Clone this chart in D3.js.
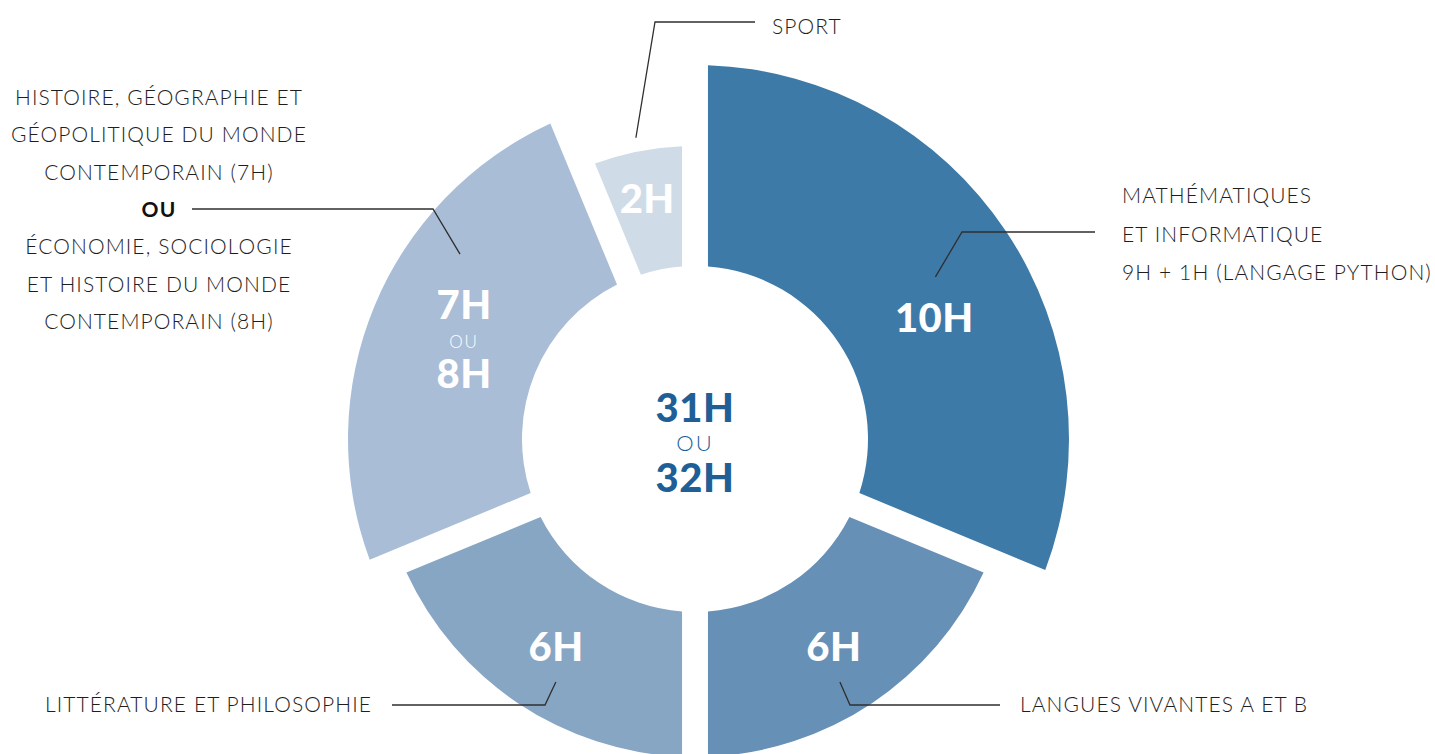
<!DOCTYPE html>
<html>
<head>
<meta charset="utf-8">
<script src="https://cdn.jsdelivr.net/npm/d3@7/dist/d3.min.js"></script>
<style>
  html, body { margin: 0; padding: 0; background: #fff; }
  svg { display: block; }
  .lbl { font-family: Lato, "Open Sans", sans-serif; font-weight: 300; font-size: 21px; fill: #1e1e1e; letter-spacing: 1.1px; }
  .big { font-family: Lato, sans-serif; font-weight: 900; font-size: 40px; letter-spacing: 0.5px; }
  .thin { font-family: Lato, sans-serif; font-weight: 300; }
</style>
</head>
<body>
<div id="chart"></div>
<script>
// données : heures hebdomadaires par matière
const subjects = ["Mathématiques", "Langues", "Littérature", "Histoire / SES", "Sport"];
const hours = [10, 6, 6, 8, 2];
const hourLabels = [["10H"], ["6H"], ["6H"], ["7H", "OU", "8H"], ["2H"]];
const colors = ["#3e7aa7", "#6690b6", "#87a6c4", "#a9bdd6", "#cfdce8"];
const outerRadii = [374, 318, 318, 347, 293];
const totalLabel = ["31H", "OU", "32H"];

const descMath = ["MATHÉMATIQUES", "ET INFORMATIQUE", "9H + 1H (LANGAGE PYTHON)"];
const descHist = ["HISTOIRE, GÉOGRAPHIE ET", "GÉOPOLITIQUE DU MONDE", "CONTEMPORAIN (7H)", "OU",
                  "ÉCONOMIE, SOCIOLOGIE", "ET HISTOIRE DU MONDE", "CONTEMPORAIN (8H)"];
const descLitt = ["LITTÉRATURE ET PHILOSOPHIE"];
const descLang = ["LANGUES VIVANTES A ET B"];
const descSport = ["SPORT"];

const width = 1435, height = 754;
const cx = 695, cy = 439;
const innerR = 173;

const svg = d3.select("#chart").append("svg").attr("width", width).attr("height", height);
const g = svg.append("g").attr("transform", `translate(${cx},${cy})`);

const pie = d3.pie().sort(null).value(d => d).startAngle(0).endAngle(2 * Math.PI);
const arcs = pie(hours);

const arc = d3.arc()
    .innerRadius(innerR)
    .padAngle(0.26)
    .padRadius(100);

g.selectAll("path.seg").data(arcs).enter().append("path")
    .attr("class", "seg")
    .attr("fill", (d, i) => colors[i])
    .attr("d", (d, i) => arc.outerRadius(outerRadii[i])(d));

// point polaire (angle depuis le haut, sens horaire)
const polar = (a, r) => [r * Math.sin(a), -r * Math.cos(a)];
const mid = d => (d.startAngle + d.endAngle) / 2;
const deg = Math.PI / 180;

// étiquettes d'heures dans les segments
const labelShift = { 0: { da: 7 * deg, r: 268 }, 4: { da: 0, r: 245 } };
arcs.forEach((d, i) => {
    const s = labelShift[i] || { da: 0, r: 250 };
    const [x, y] = polar(mid(d) + s.da, s.r);
    const lines = hourLabels[i];
    if (lines.length === 1) {
        g.append("text").attr("class", "big").attr("text-anchor", "middle").attr("fill", "#fff")
            .attr("x", x).attr("y", y + 14).text(lines[0]);
    } else {
        g.append("text").attr("class", "big").attr("text-anchor", "middle").attr("fill", "#fff")
            .attr("x", x).attr("y", y - 24).text(lines[0]);
        g.append("text").attr("class", "thin").attr("text-anchor", "middle").attr("fill", "#fff")
            .style("font-size", "17px").style("letter-spacing", "2px")
            .attr("x", x).attr("y", y + 5).text(lines[1]);
        g.append("text").attr("class", "big").attr("text-anchor", "middle").attr("fill", "#fff")
            .attr("x", x).attr("y", y + 45).text(lines[2]);
    }
});

// total au centre
const centerColor = "#1f5f96";
g.append("text").attr("class", "big").attr("text-anchor", "middle").attr("fill", centerColor)
    .attr("y", -17).text(totalLabel[0]);
g.append("text").attr("class", "thin").attr("text-anchor", "middle").attr("fill", centerColor)
    .style("font-size", "22px").style("letter-spacing", "2px").attr("y", 12).text(totalLabel[1]);
g.append("text").attr("class", "big").attr("text-anchor", "middle").attr("fill", centerColor)
    .attr("y", 53).text(totalLabel[2]);

// traits de rappel : départ polaire, coude, fin horizontale
const leaders = [
    { seg: 0, a: 56 * deg, r: 290, elbow: [962, 232], endX: 1095 },
    { seg: 1, a: 149.2 * deg, r: 283, elbow: [850, 705], endX: 1000 },
    { seg: 2, a: 209.8 * deg, r: 280, elbow: [545, 705], endX: 392 },
    { seg: 3, a: 308.2 * deg, r: 299, elbow: [433, 209], endX: 192 },
    { seg: 4, a: 348.9 * deg, r: 307, elbow: [655, 22], endX: 755 }
];
const line = d3.line();
leaders.forEach(l => {
    const [sx, sy] = polar(l.a, l.r);
    svg.append("path")
        .attr("fill", "none").attr("stroke", "#2f2f2f").attr("stroke-width", 1.3)
        .attr("d", line([[cx + sx, cy + sy], l.elbow, [l.endX, l.elbow[1]]]));
});

// textes descriptifs
function block(lines, x, y0, step, anchor) {
    lines.forEach((s, i) => {
        const t = svg.append("text").attr("class", "lbl").attr("text-anchor", anchor)
            .attr("x", x).attr("y", y0 + i * step).text(s);
        if (s === "OU") t.style("font-weight", 700).style("fill", "#111");
    });
}
block(descSport, 772, 34, 0, "start");
block(descMath, 1122, 203, 38.5, "start");
block(descHist, 159, 105, 37.3, "middle");
block(descLitt, 372, 712, 0, "end");
block(descLang, 1020, 712, 0, "start");
</script>
</body>
</html>
